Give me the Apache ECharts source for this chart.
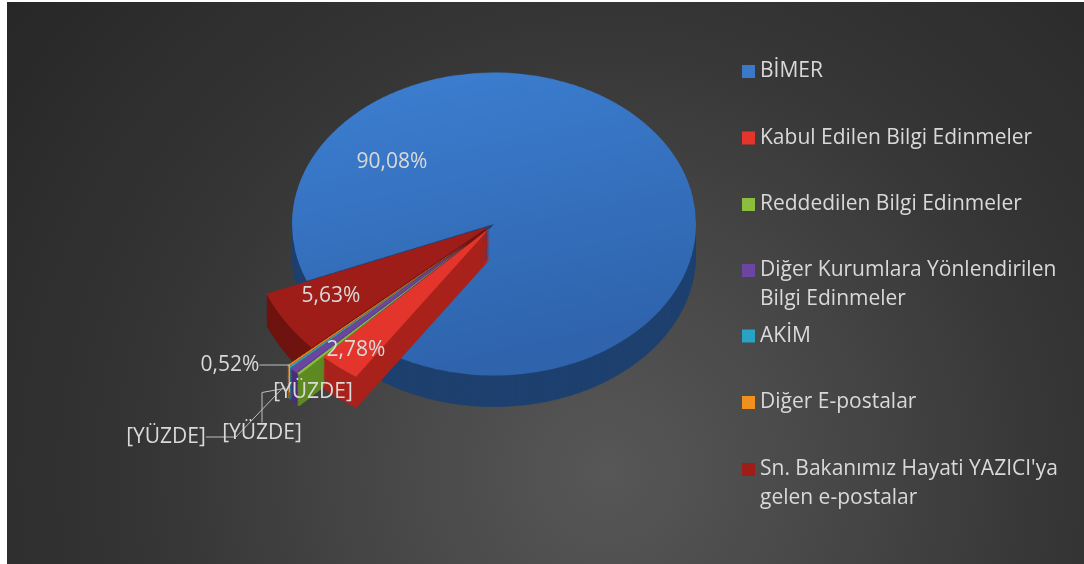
<!DOCTYPE html>
<html>
<head>
    <meta charset="utf-8">
    <title>Başvuru Dağılımı</title>
    <script src="https://cdn.jsdelivr.net/npm/echarts@6/dist/echarts.min.js"></script>
    <style>
        html, body { margin: 0; padding: 0; background: #fff; }
        #bg {
            position: absolute; left: 7px; top: 2px; width: 1077px; height: 562px;
            background: radial-gradient(circle farthest-corner at 600px 470px, #575757 0%, #474747 30%, #353535 60%, #272727 100%);
        }
        /* pie is drawn flat, then squashed to look tilted */
        #pie {
            position: absolute; left: 0; top: 0; width: 1084px; height: 564px;
            transform-origin: 494px 224px; transform: scaleY(0.75);
        }
        #main { position: absolute; left: 0; top: 0; width: 1084px; height: 564px; }
    </style>
</head>
<body>
    <div id="bg"></div>
    <div id="pie"></div>
    <div id="main"></div>
    <script type="text/javascript">
        // data
        var categories = ['BİMER', 'Kabul Edilen Bilgi Edinmeler', 'Reddedilen Bilgi Edinmeler',
            'Diğer Kurumlara Yönlendirilen Bilgi Edinmeler', 'AKİM', 'Diğer E-postalar',
            "Sn. Bakanımız Hayati YAZICI'ya gelen e-postalar"];
        var values = [90.08, 2.78, 0.20, 0.52, 0.15, 0.12, 5.63];
        var labelTexts = ['90,08%', '2,78%', '[YÜZDE]', '0,52%', '[YÜZDE]', '[YÜZDE]', '5,63%'];

        var topColors = ['#3a78c8', '#e3352b', '#8dbd3e', '#6c45a3', '#29a3c4', '#f0901f', '#9e1d18'];
        var sideColors = ['#1d406f', '#a8221b', '#5e8a22', '#4a2c78', '#187590', '#b8630e', '#6e130f'];

        // slice groups: same geometry inside a group
        var groups = {
            big:  { members: [0], radius: 202, offset: 0 },
            mid:  { members: [1, 6], radius: 240, offset: 6 },
            thin: { members: [2, 3, 4, 5], radius: 245, offset: 35 }
        };

        // one flat pie layer showing only the slices of one group
        function pieLayer(dy, g, isTop) {
            var colors = isTop ? topColors : sideColors;
            return {
                type: 'pie',
                silent: true,
                center: [494, 224 + dy],
                radius: g.radius,
                startAngle: 202,
                clockwise: true,
                selectedMode: 'multiple',
                selectedOffset: g.offset,
                label: { show: false },
                labelLine: { show: false },
                emphasis: { disabled: true },
                data: categories.map(function (name, i) {
                    var mine = g.members.indexOf(i) >= 0;
                    var c = colors[i];
                    if (i === 0 && isTop) {
                        c = { type: 'linear', x: 0, y: 0, x2: 0.3, y2: 1,
                              colorStops: [{ offset: 0, color: '#3d80d3' }, { offset: 1, color: '#2f64ad' }] };
                    }
                    return {
                        name: name,
                        value: values[i],
                        selected: mine && g.offset > 0,
                        itemStyle: { color: mine ? c : 'rgba(0,0,0,0)' }
                    };
                })
            };
        }

        var pieSeries = [];
        var d;
        for (d = 42; d >= 3; d -= 3) pieSeries.push(pieLayer(d, groups.big, false));
        pieSeries.push(pieLayer(0, groups.big, true));
        for (d = 42; d >= 3; d -= 3) {
            pieSeries.push(pieLayer(d, groups.mid, false));
            pieSeries.push(pieLayer(d, groups.thin, false));
        }
        pieSeries.push(pieLayer(0, groups.mid, true));
        pieSeries.push(pieLayer(0, groups.thin, true));

        var pieChart = echarts.init(document.getElementById('pie'));
        pieChart.setOption({ animation: false, series: pieSeries });

        // legend + labels on top, not squashed
        // tall icon box with the square at its top keeps the marker on the first text line
        var tallIcon = 'path://M0,0L13,0L13,13L0,13Z M13,41.9L13,42L12.9,42Z';
        function legendBlock(from, to, top, twoLines, wrapWidth) {
            return {
                orient: 'vertical',
                left: 742,
                top: top,
                padding: 0,
                icon: twoLines ? tallIcon : 'rect',
                itemWidth: 13,
                itemHeight: twoLines ? 42 : 13,
                itemGap: 37.5,
                selectedMode: false,
                textStyle: {
                    color: '#d9d9d9', fontSize: 21, fontFamily: 'Open Sans',
                    lineHeight: 29, width: wrapWidth || 322, overflow: 'break'
                },
                data: categories.slice(from, to).map(function (name, k) {
                    return { name: name, itemStyle: { color: topColors[from + k] } };
                })
            };
        }

        var leaderOn = [false, false, false, true, true, true, false];
        var labelSpots = [[392, 162], [356, 350], [313, 392], [230, 365], [262, 433], [166, 437], [331, 296]];

        var mainChart = echarts.init(document.getElementById('main'));
        mainChart.setOption({
            animation: false,
            legend: [
                legendBlock(0, 3, 57, false),
                legendBlock(3, 4, 256, true, 322),
                legendBlock(4, 6, 321.5, false),
                legendBlock(6, 7, 455, true, 345)
            ],
            series: [{
                type: 'pie',
                silent: true,
                center: [474, 212],
                radius: 258,
                startAngle: 202,
                avoidLabelOverlap: false,
                emphasis: { disabled: true },
                itemStyle: { color: 'rgba(0,0,0,0)' },
                label: {
                    show: true,
                    position: 'outside',
                    color: '#d9d9d9',
                    fontSize: 21,
                    fontFamily: 'Open Sans',
                    formatter: function (p) { return labelTexts[p.dataIndex]; }
                },
                labelLine: { show: false, lineStyle: { color: '#bfbfbf', width: 1 } },
                labelLayout: function (p) {
                    var s = labelSpots[p.dataIndex];
                    return { x: s[0], y: s[1], align: 'center', verticalAlign: 'middle' };
                },
                data: categories.map(function (name, i) {
                    return { name: name, value: values[i], labelLine: { show: leaderOn[i] } };
                })
            }]
        });
    </script>
</body>
</html>
